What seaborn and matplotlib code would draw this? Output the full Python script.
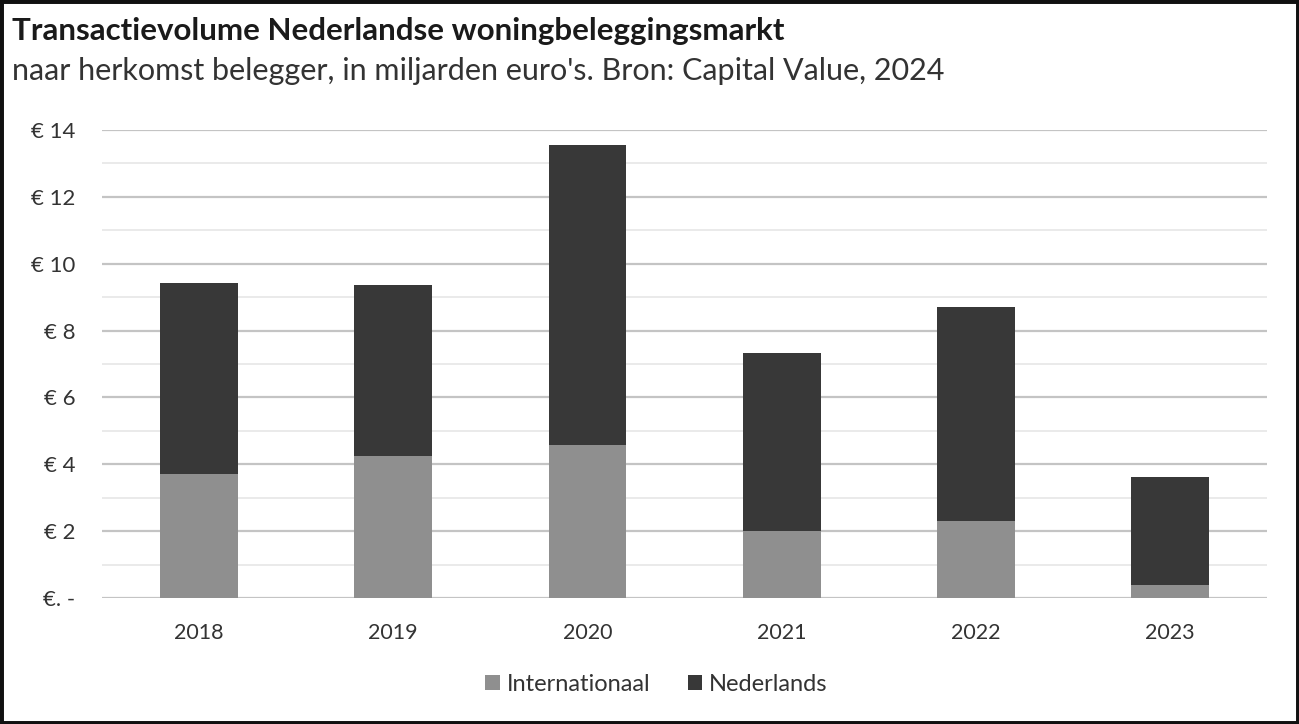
import matplotlib
matplotlib.use("Agg")
import matplotlib.pyplot as plt
import seaborn as sns
import pandas as pd
from matplotlib.patches import Rectangle

# values in miljarden euro's
years = ['2018', '2019', '2020', '2021', '2022', '2023']
internationaal = [3.71, 4.25, 4.58, 2.00, 2.30, 0.39]
nederlands = [5.71, 5.11, 8.97, 5.33, 6.40, 3.23]
ytick_vals = [0, 2, 4, 6, 8, 10, 12, 14]
ytick_labels = ['€. -', '€ 2', '€ 4', '€ 6', '€ 8', '€ 10', '€ 12', '€ 14']

df = pd.DataFrame({'jaar': years, 'Internationaal': internationaal, 'Nederlands': nederlands})
df['totaal'] = df['Internationaal'] + df['Nederlands']

sns.set_style('white')
plt.rcParams['font.family'] = ['Lato', 'DejaVu Sans']

fig = plt.figure(figsize=(12.99, 7.24), dpi=100)
ax = fig.add_axes([0.0785, 0.174, 0.897, 0.6464])

# stacked bars: total first, international on top of it
sns.barplot(data=df, x='jaar', y='totaal', color='#383838', width=0.4,
            saturation=1, ax=ax, label='Nederlands', zorder=3, linewidth=0)
sns.barplot(data=df, x='jaar', y='Internationaal', color='#8f8f8f', width=0.4,
            saturation=1, ax=ax, label='Internationaal', zorder=3, linewidth=0)

ax.set_ylim(0, 14)
ax.set_xlim(-0.5, 5.5)
ax.set_yticks(ytick_vals)
ax.set_yticklabels(ytick_labels)
ax.set_yticks(range(1, 14, 2), minor=True)
ax.grid(axis='y', which='major', color='#c4c4c4', linewidth=1.6, zorder=0)
ax.grid(axis='y', which='minor', color='#e8e8e8', linewidth=1.3, zorder=0)
ax.set_axisbelow(True)
for s in ax.spines.values():
    s.set_visible(False)
ax.tick_params(axis='both', length=0, colors='#333333')
ax.tick_params(axis='y', pad=19, labelsize=16)
ax.tick_params(axis='x', pad=18, labelsize=15.5)
for lbl in ax.get_yticklabels():
    lbl.set_horizontalalignment('right')
ax.set_xlabel('')
ax.set_ylabel('')

handles, labels = ax.get_legend_handles_labels()
order = [labels.index('Internationaal'), labels.index('Nederlands')]
ax.legend([handles[i] for i in order], [labels[i] for i in order],
          loc='center', bbox_to_anchor=(0.476, -0.185), ncol=2, frameon=False,
          fontsize=17, handlelength=0.6, handleheight=0.6, handletextpad=0.3,
          columnspacing=1.6, labelcolor='#333333')

fig.text(0.009, 0.957, 'Transactievolume Nederlandse woningbeleggingsmarkt',
         fontsize=22.5, fontweight='bold', color='#1a1a1a', va='center')
fig.text(0.009, 0.902, "naar herkomst belegger, in miljarden euro's. Bron: Capital Value, 2024",
         fontsize=22, color='#333333', va='center')

fig.add_artist(Rectangle((0, 0), 1, 1, transform=fig.transFigure, fill=False,
                         edgecolor='#111111', linewidth=5))

fig.savefig('out.png', dpi=100)
